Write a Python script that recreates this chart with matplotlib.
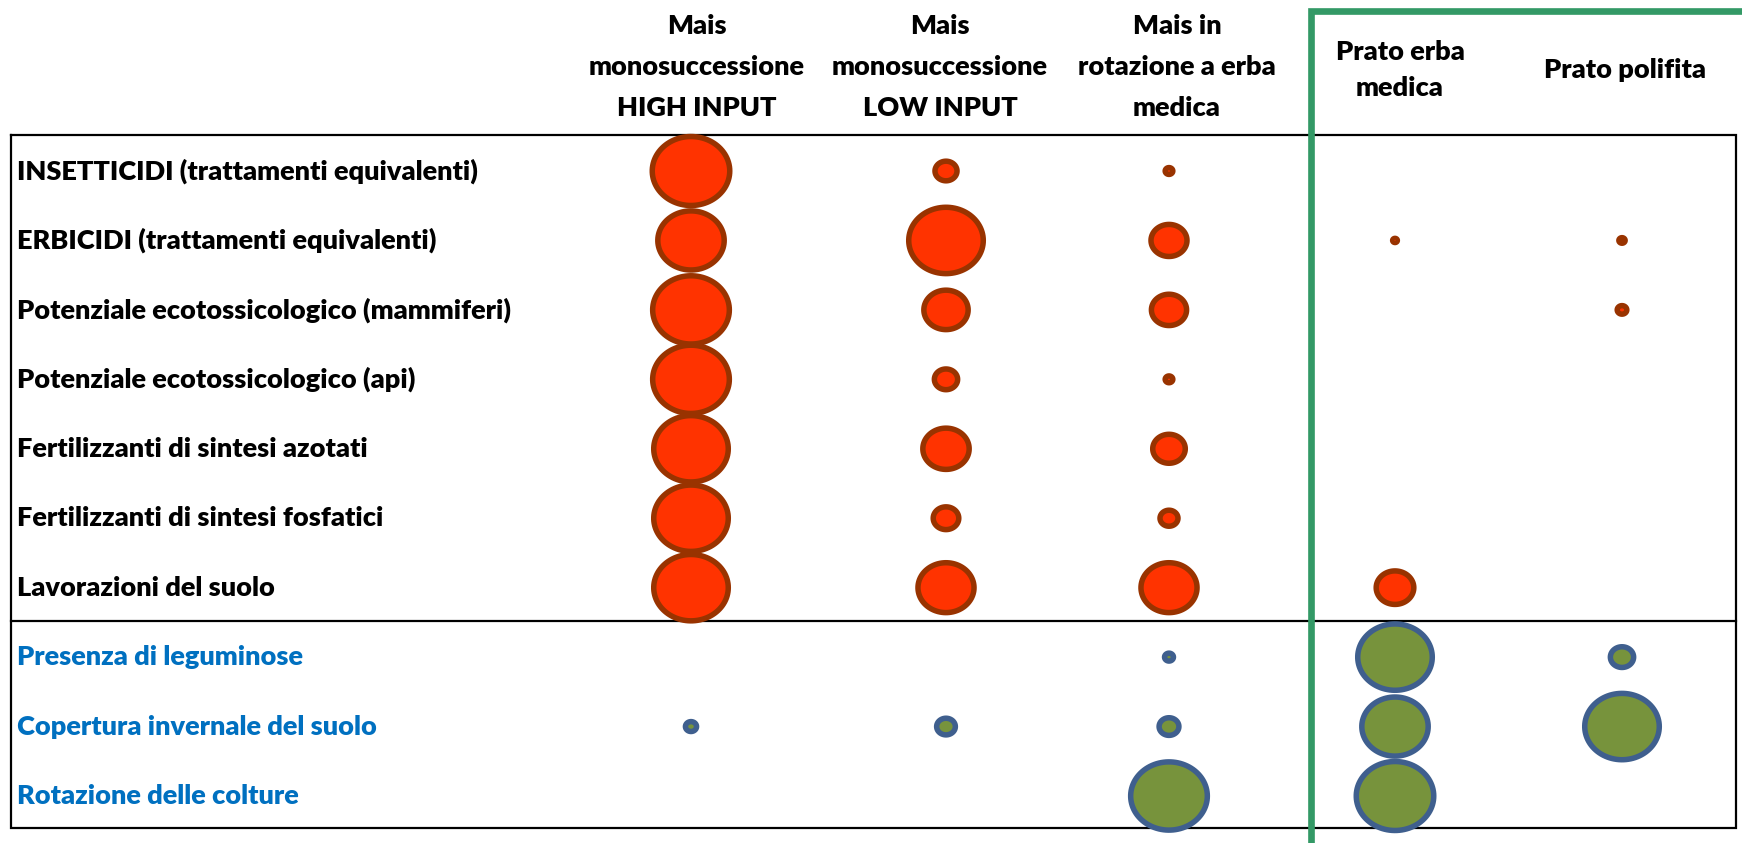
import numpy as np
import matplotlib
matplotlib.use("Agg")
import matplotlib.pyplot as plt
from matplotlib.path import Path

# colonne (sistemi colturali) e indicatori
systems = ["Mais\nmonosuccessione\nHIGH INPUT",
           "Mais\nmonosuccessione\nLOW INPUT",
           "Mais in\nrotazione a erba\nmedica",
           "Prato erba\nmedica",
           "Prato polifita"]
pressures = ["INSETTICIDI (trattamenti equivalenti)",
             "ERBICIDI (trattamenti equivalenti)",
             "Potenziale ecotossicologico (mammiferi)",
             "Potenziale ecotossicologico (api)",
             "Fertilizzanti di sintesi azotati",
             "Fertilizzanti di sintesi fosfatici",
             "Lavorazioni del suolo"]
benefits = ["Presenza di leguminose",
            "Copertura invernale del suolo",
            "Rotazione delle colture"]

# punteggi relativi (0-100, proporzionali all'area della bolla)
insetticidi = [100, 11, 2.5, 0, 0]
erbicidi = [75, 93, 25, 1.5, 2]
ecotox_mammiferi = [98, 36, 24, 0, 3.3]
ecotox_api = [98, 12, 2.5, 0, 0]
fert_azotati = [93, 39, 21, 0, 0]
fert_fosfatici = [93, 14, 8, 0, 0]
lavorazioni = [93, 55, 55, 27, 0]
leguminose = [0, 0, 3, 93, 12]
copertura = [4, 8.5, 9.3, 75, 93]
rotazione = [0, 0, 98, 100, 0]

pressure_vals = [insetticidi, erbicidi, ecotox_mammiferi, ecotox_api,
                 fert_azotati, fert_fosfatici, lavorazioni]
benefit_vals = [leguminose, copertura, rotazione]

# layout in pixel
W, H = 1742, 843
col_x = [691, 946, 1169, 1395, 1622]
head_x = [697, 940, 1177, 1400, 1625]
row_y = np.linspace(171, 796, 10)
max_w = 83      # larghezza della bolla piu grande (px)
edge_px = 5.5
text_font = ["Lato", "DejaVu Sans"]
fs = 19.5
fw = "heavy"

fig = plt.figure(figsize=(W / 100, H / 100), dpi=100)
ax = fig.add_axes([0, 0, 1, 1])
ax.set_xlim(0, W)
ax.set_ylim(H, 0)
ax.axis("off")

# bolla ellittica (leggermente schiacciata)
t = np.linspace(0, 2 * np.pi, 100)
ell = Path(np.column_stack([np.cos(t), 0.89 * np.sin(t)]), closed=True)

def draw_row(y, vals, face, edge):
    xs, ys, ss = [], [], []
    for x, v in zip(col_x, vals):
        if v <= 0:
            continue
        outer = max_w * np.sqrt(v / 100.0)
        inner = max(outer - edge_px, 1.0)
        xs.append(x)
        ys.append(y)
        ss.append((inner * 0.72) ** 2)
    ax.scatter(xs, ys, s=ss, marker=ell, facecolor=face, edgecolor=edge,
               linewidths=edge_px * 0.72, zorder=3)

for i, (lab, vals) in enumerate(zip(pressures, pressure_vals)):
    ax.text(17, row_y[i], lab, ha="left", va="center", fontsize=fs,
            fontweight=fw, family=text_font, color="black")
    draw_row(row_y[i], vals, "#FF3300", "#993300")

for j, (lab, vals) in enumerate(zip(benefits, benefit_vals)):
    i = len(pressures) + j
    ax.text(17, row_y[i], lab, ha="left", va="center", fontsize=fs,
            fontweight=fw, family=text_font, color="#0070C0")
    draw_row(row_y[i], vals, "#77933C", "#3F5F8E")

# intestazioni
for k, name in enumerate(systems):
    n = name.count("\n") + 1
    ls = 1.84 if n == 3 else 1.64
    yc = 67 if n == 3 else 70
    ax.text(head_x[k], yc, name, ha="center", va="center", fontsize=fs,
            fontweight=fw, family=text_font, linespacing=ls,
            multialignment="center")

# bordi della tabella
ax.plot([11, 1736, 1736, 11, 11], [135, 135, 828, 828, 135],
        color="black", lw=1.6, zorder=1, solid_joinstyle="miter")
ax.plot([11, 1736], [621, 621], color="black", lw=1.6, zorder=1)

# riquadro verde dei prati
ax.plot([1311, 1311, W + 10, W + 10, 1311], [H + 2, 11, 11, H + 2, H + 2],
        color="#339966", lw=4.8, zorder=4, solid_joinstyle="miter")

fig.savefig("out.png", dpi=100)
